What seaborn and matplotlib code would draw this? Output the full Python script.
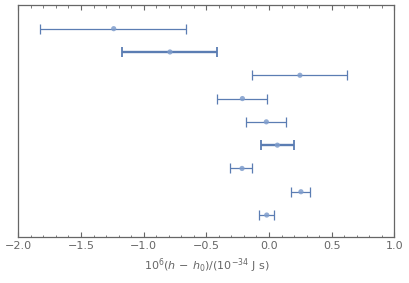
import matplotlib
matplotlib.use("Agg")
import matplotlib.pyplot as plt
import seaborn as sns
import numpy as np
import pandas as pd
from matplotlib.ticker import MultipleLocator

centers = [-1.239, -0.790, 0.247, -0.212, -0.021, 0.067, -0.215, 0.255, -0.018]
lower = [-1.827, -1.170, -0.136, -0.415, -0.184, -0.064, -0.311, 0.179, -0.080]
upper = [-0.662, -0.415, 0.623, -0.016, 0.136, 0.197, -0.136, 0.327, 0.038]
thick = [False, True, False, False, False, True, False, False, False]
rows = [9, 8, 7, 6, 5, 4, 3, 2, 1]
tick_vals = [-2.0, -1.5, -1.0, -0.5, 0.0, 0.5, 1.0]
tick_labels = ["\u22122.0", "\u22121.5", "\u22121.0", "\u22120.5", "0.0", "0.5", "1.0"]

df = pd.DataFrame({"x": centers, "lo": lower, "hi": upper, "y": rows, "thick": thick})

sns.set_style("white")
fig = plt.figure(figsize=(4.1, 2.83), dpi=100)
ax = fig.add_axes([0.0447, 0.1636, 0.9170, 0.8174])

line_col = "#5b7db3"
for _, r in df.iterrows():
    lw = 1.7 if r["thick"] else 0.9
    ax.errorbar(r["x"], r["y"], xerr=[[r["x"] - r["lo"]], [r["hi"] - r["x"]]],
                fmt="none", ecolor=line_col, elinewidth=lw, capsize=3.3,
                capthick=1.3 if r["thick"] else 0.9)
sns.scatterplot(data=df, x="x", y="y", ax=ax, color="#7f9dcc", s=14,
                edgecolor="none", alpha=0.85, zorder=3, legend=False)

ax.set_xlim(-2.0, 1.0)
ax.set_ylim(0.07, 10)
ax.set_yticks([])
ax.set_ylabel("")
ax.set_xticks(tick_vals)
ax.set_xticklabels(tick_labels)
ax.xaxis.set_minor_locator(MultipleLocator(0.1))
ax.tick_params(axis="x", which="major", direction="in", length=3.5, width=0.8,
               color="#666666", top=True, bottom=True, labelsize=8,
               labelcolor="#666666", pad=3)
ax.tick_params(axis="x", which="minor", direction="in", length=1.8, width=0.6,
               color="#666666", top=True, bottom=True)
for s in ax.spines.values():
    s.set_color("#666666")
    s.set_linewidth(0.9)
ax.set_xlabel(r"$10^{6}(h\,-\,h_0)/(10^{-34}$ J s)", fontsize=8, color="#666666",
              labelpad=4)
ax.set_xlim(-2.0, 1.0)
fig.savefig("out.png", dpi=100)
